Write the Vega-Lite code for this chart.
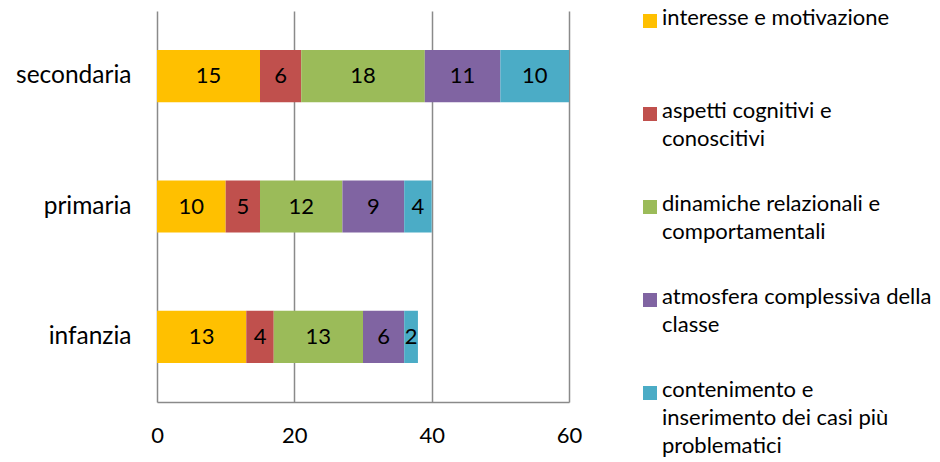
{
  "$schema": "https://vega.github.io/schema/vega-lite/v6.json",
  "autosize": "none",
  "width": 412,
  "height": 391,
  "padding": {"left": 157, "top": 11, "right": 371, "bottom": 60},
  "background": "white",
  "config": {
    "font": "Lato",
    "view": {"stroke": null}
  },
  "data": {
    "values": [
      {"cat": "secondaria", "grp": "interesse e motivazione", "k": 1, "value": 15},
      {"cat": "secondaria", "grp": "aspetti cognitivi e conoscitivi", "k": 2, "value": 6},
      {"cat": "secondaria", "grp": "dinamiche relazionali e comportamentali", "k": 3, "value": 18},
      {"cat": "secondaria", "grp": "atmosfera complessiva della classe", "k": 4, "value": 11},
      {"cat": "secondaria", "grp": "contenimento e inserimento dei casi più problematici", "k": 5, "value": 10},
      {"cat": "primaria", "grp": "interesse e motivazione", "k": 1, "value": 10},
      {"cat": "primaria", "grp": "aspetti cognitivi e conoscitivi", "k": 2, "value": 5},
      {"cat": "primaria", "grp": "dinamiche relazionali e comportamentali", "k": 3, "value": 12},
      {"cat": "primaria", "grp": "atmosfera complessiva della classe", "k": 4, "value": 9},
      {"cat": "primaria", "grp": "contenimento e inserimento dei casi più problematici", "k": 5, "value": 4},
      {"cat": "infanzia", "grp": "interesse e motivazione", "k": 1, "value": 13},
      {"cat": "infanzia", "grp": "aspetti cognitivi e conoscitivi", "k": 2, "value": 4},
      {"cat": "infanzia", "grp": "dinamiche relazionali e comportamentali", "k": 3, "value": 13},
      {"cat": "infanzia", "grp": "atmosfera complessiva della classe", "k": 4, "value": 6},
      {"cat": "infanzia", "grp": "contenimento e inserimento dei casi più problematici", "k": 5, "value": 2}
    ]
  },
  "transform": [
    {"stack": "value", "groupby": ["cat"], "sort": [{"field": "k"}], "as": ["x0", "x1"]},
    {"calculate": "(datum.x0 + datum.x1) / 2", "as": "xmid"}
  ],
  "encoding": {
    "y": {
      "field": "cat", "type": "nominal",
      "sort": ["secondaria", "primaria", "infanzia"],
      "scale": {"paddingInner": 0.6, "paddingOuter": 0.3},
      "axis": {
        "title": null, "domain": false, "ticks": false,
        "labelFontSize": 24.5, "labelColor": "#000000", "labelPadding": 26
      }
    }
  },
  "layer": [
    {
      "mark": {"type": "bar"},
      "encoding": {
        "x": {
          "field": "x0", "type": "quantitative",
          "scale": {"domain": [0, 60], "nice": false},
          "axis": {
            "title": null, "values": [0, 20, 40, 60],
            "grid": true, "gridColor": "#8a8a8a", "gridWidth": 1.5,
            "domainColor": "#8a8a8a", "domainWidth": 1.5,
            "ticks": false, "labelFontSize": 22, "labelColor": "#000000",
            "labelPadding": 23, "labelFlush": false
          }
        },
        "x2": {"field": "x1"},
        "color": {
          "field": "grp", "type": "nominal",
          "scale": {
            "domain": [
              "interesse e motivazione",
              "aspetti cognitivi e conoscitivi",
              "dinamiche relazionali e comportamentali",
              "atmosfera complessiva della classe",
              "contenimento e inserimento dei casi più problematici"
            ],
            "range": ["#FFC000", "#C0504D", "#9BBB59", "#8064A2", "#4BACC6"]
          },
          "legend": {
            "title": null,
            "orient": "none",
            "legendX": 482,
            "legendY": -1,
            "symbolType": "square",
            "symbolSize": 196,
            "symbolStrokeWidth": 0,
            "symbolOpacity": 1,
            "labelFontSize": 22,
            "labelColor": "#000000",
            "labelOffset": 1,
            "labelLimit": 400,
            "labelBaseline": "top",
            "rowPadding": 15,
            "labelExpr": "datum.label == 'interesse e motivazione' ? ['interesse e motivazione', ' ', ' '] : datum.label == 'aspetti cognitivi e conoscitivi' ? ['aspetti cognitivi e', 'conoscitivi', ' '] : datum.label == 'dinamiche relazionali e comportamentali' ? ['dinamiche relazionali e', 'comportamentali', ' '] : datum.label == 'atmosfera complessiva della classe' ? ['atmosfera complessiva della', 'classe', ' '] : ['contenimento e', 'inserimento dei casi più', 'problematici']",
            "encode": {
              "labels": {"update": {"dy": {"value": -13}, "lineHeight": {"value": 28}}}
            }
          }
        },
        "order": {"field": "k"}
      }
    },
    {
      "mark": {"type": "text", "fontSize": 22, "color": "#000000"},
      "encoding": {
        "x": {"field": "xmid", "type": "quantitative"},
        "text": {"field": "value", "type": "quantitative"}
      }
    }
  ]
}
